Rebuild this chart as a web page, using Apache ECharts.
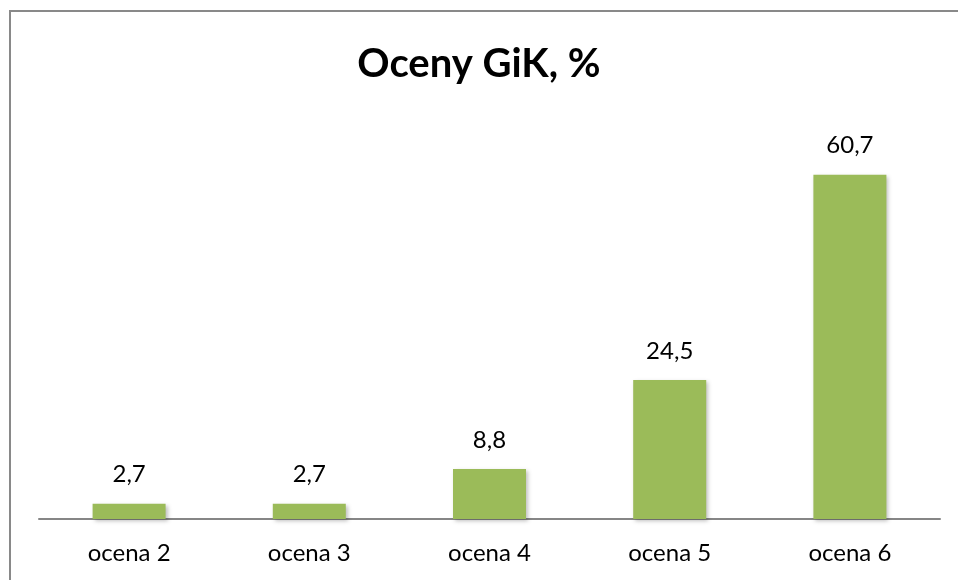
<!DOCTYPE html>
<html>
<head>
<meta charset="utf-8">
<script src="https://cdn.jsdelivr.net/npm/echarts@6/dist/echarts.min.js"></script>
<style>
  html, body { margin: 0; padding: 0; background: #fff; }
  #chart { width: 958px; height: 580px; }
</style>
</head>
<body>
<div id="chart"></div>
<script>
// Grade categories and share of students (%)
const categories = ['ocena 2', 'ocena 3', 'ocena 4', 'ocena 5', 'ocena 6'];
const shares = [2.7, 2.7, 8.8, 24.5, 60.7];
const titleText = 'Oceny GiK, %';

const chart = echarts.init(document.getElementById('chart'), null, { renderer: 'canvas' });

const fmt = v => v.toFixed(1).replace('.', ',');

chart.setOption({
  backgroundColor: '#ffffff',
  animation: false,
  title: {
    text: titleText,
    left: 'center',
    top: 39,
    textStyle: { fontFamily: 'Lato', fontWeight: 'bold', fontSize: 40, color: '#000000' }
  },
  graphic: [{
    type: 'rect',
    shape: { x: 10, y: 11, width: 2000, height: 2000 },
    style: { fill: 'none', stroke: '#898989', lineWidth: 2 },
    silent: true
  }],
  grid: { left: 39, right: 18, top: 122, bottom: 61, containLabel: false },
  xAxis: {
    type: 'category',
    data: categories,
    axisLine: { show: true, lineStyle: { color: '#868686', width: 2 } },
    axisTick: { show: false },
    axisLabel: { margin: 22, fontFamily: 'Lato', fontSize: 24, color: '#000000' }
  },
  yAxis: {
    type: 'value',
    min: 0,
    max: 70,
    show: false
  },
  series: [{
    type: 'bar',
    data: shares,
    barWidth: 73,
    itemStyle: {
      color: '#9BBB59',
      shadowColor: 'rgba(0,0,0,0.25)',
      shadowBlur: 4,
      shadowOffsetX: 2,
      shadowOffsetY: 2
    },
    label: {
      show: true,
      position: 'top',
      distance: 17,
      fontFamily: 'Lato',
      fontSize: 24,
      color: '#000000',
      formatter: p => fmt(p.value)
    }
  }]
});
</script>
</body>
</html>
